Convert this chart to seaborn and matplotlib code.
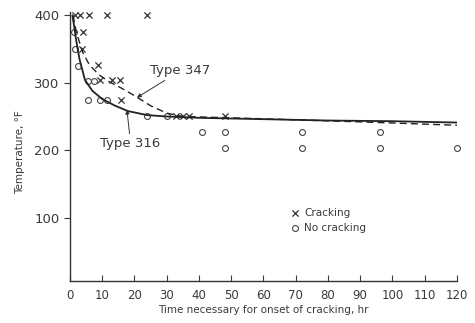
import pandas as pd
import matplotlib
matplotlib.use("Agg")
import matplotlib.pyplot as plt
import seaborn as sns

# crack / no-crack test points (time hr, temperature F)
crack_t = [1.5, 3, 6, 11.5, 24, 4, 3.7, 8.7, 9.3, 13, 15.5, 16, 33, 35, 37, 48]
crack_T = [400, 400, 400, 400, 400, 375, 350, 327, 304, 304, 304, 275, 250, 250, 250, 250]

nocrack_t = [1.2, 1.5, 2.5, 5.6, 7.5, 5.6, 9.3, 11.5, 24, 30, 41, 48, 48, 72, 72, 96, 96, 120]
nocrack_T = [375, 350, 325, 302, 302, 275, 275, 275, 250, 250, 227, 227, 203, 227, 203, 227, 203, 203]

# fitted curves
t316 = [0.8, 1.3, 2, 3, 4.7, 7, 10, 14, 18, 24, 30, 40, 60, 80, 100, 120]
T316 = [400, 385, 362, 335, 304, 288, 276, 266, 258, 252, 250, 248, 246, 244, 243, 241]

t347 = [1, 2, 4, 6, 9, 12, 16, 20, 25, 30, 35, 50, 70, 90, 120]
T347 = [400, 375, 345, 327, 312, 302, 292, 281, 266, 255, 250, 248, 245, 242, 237]

x_ticks = list(range(0, 121, 10))
y_ticks = [100, 200, 300, 400]

sns.set_style("ticks")
plt.rcParams["font.family"] = ["DejaVu Sans"]
ink = "#3a3a3a"

fig = plt.figure(figsize=(4.75, 3.23), dpi=100)
ax = fig.add_axes([0.147, 0.130, 0.815, 0.833])

sns.lineplot(x=t316, y=T316, ax=ax, color="#222222", lw=1.3, sort=False)
sns.lineplot(x=t347, y=T347, ax=ax, color="#222222", lw=1.0, sort=False,
             linestyle=(0, (5, 3)))

sns.scatterplot(x=crack_t, y=crack_T, ax=ax, marker="x", color="#333333",
                s=20, linewidth=0.9, label="Cracking", clip_on=False)
sns.scatterplot(x=nocrack_t, y=nocrack_T, ax=ax, marker="o", facecolor="white",
                edgecolor="#444444", s=18, linewidth=0.8, label="No cracking",
                clip_on=False)

ax.annotate("Type 347", xy=(20.8, 278), xytext=(25, 318), fontsize=9.5, color=ink,
            va="center", ha="left",
            arrowprops=dict(arrowstyle="-|>", color="#333333", lw=0.7,
                            shrinkA=0, shrinkB=0, mutation_scale=6))
ax.annotate("Type 316", xy=(17.7, 260), xytext=(9.5, 210), fontsize=9.5, color=ink,
            va="center", ha="left",
            arrowprops=dict(arrowstyle="-|>", color="#333333", lw=0.7,
                            shrinkA=0, shrinkB=0, mutation_scale=6))

ax.set_xlim(0, 120)
ax.set_ylim(6, 405)
ax.set_xticks(x_ticks)
ax.set_yticks(y_ticks)
ax.tick_params(axis="x", direction="in", length=4, labelsize=8.5, colors=ink, pad=6)
ax.tick_params(axis="y", direction="out", length=4, labelsize=9.5, colors=ink)
sns.despine(ax=ax)
for s in ["left", "bottom"]:
    ax.spines[s].set_color("#333333")
    ax.spines[s].set_linewidth(1.0)

ax.set_xlabel("Time necessary for onset of cracking, hr", fontsize=7.5, color=ink,
              labelpad=2)
ax.set_ylabel("Temperature, °F", fontsize=7.5, color=ink, labelpad=8)
ax.yaxis.set_label_coords(-0.115, 0.48)

ax.legend(loc="center left", bbox_to_anchor=(0.555, 0.225), frameon=False,
          fontsize=7.5, labelcolor=ink, handletextpad=0.4, borderpad=0,
          labelspacing=0.45, handlelength=1.0)

fig.savefig("out.png", dpi=100)
